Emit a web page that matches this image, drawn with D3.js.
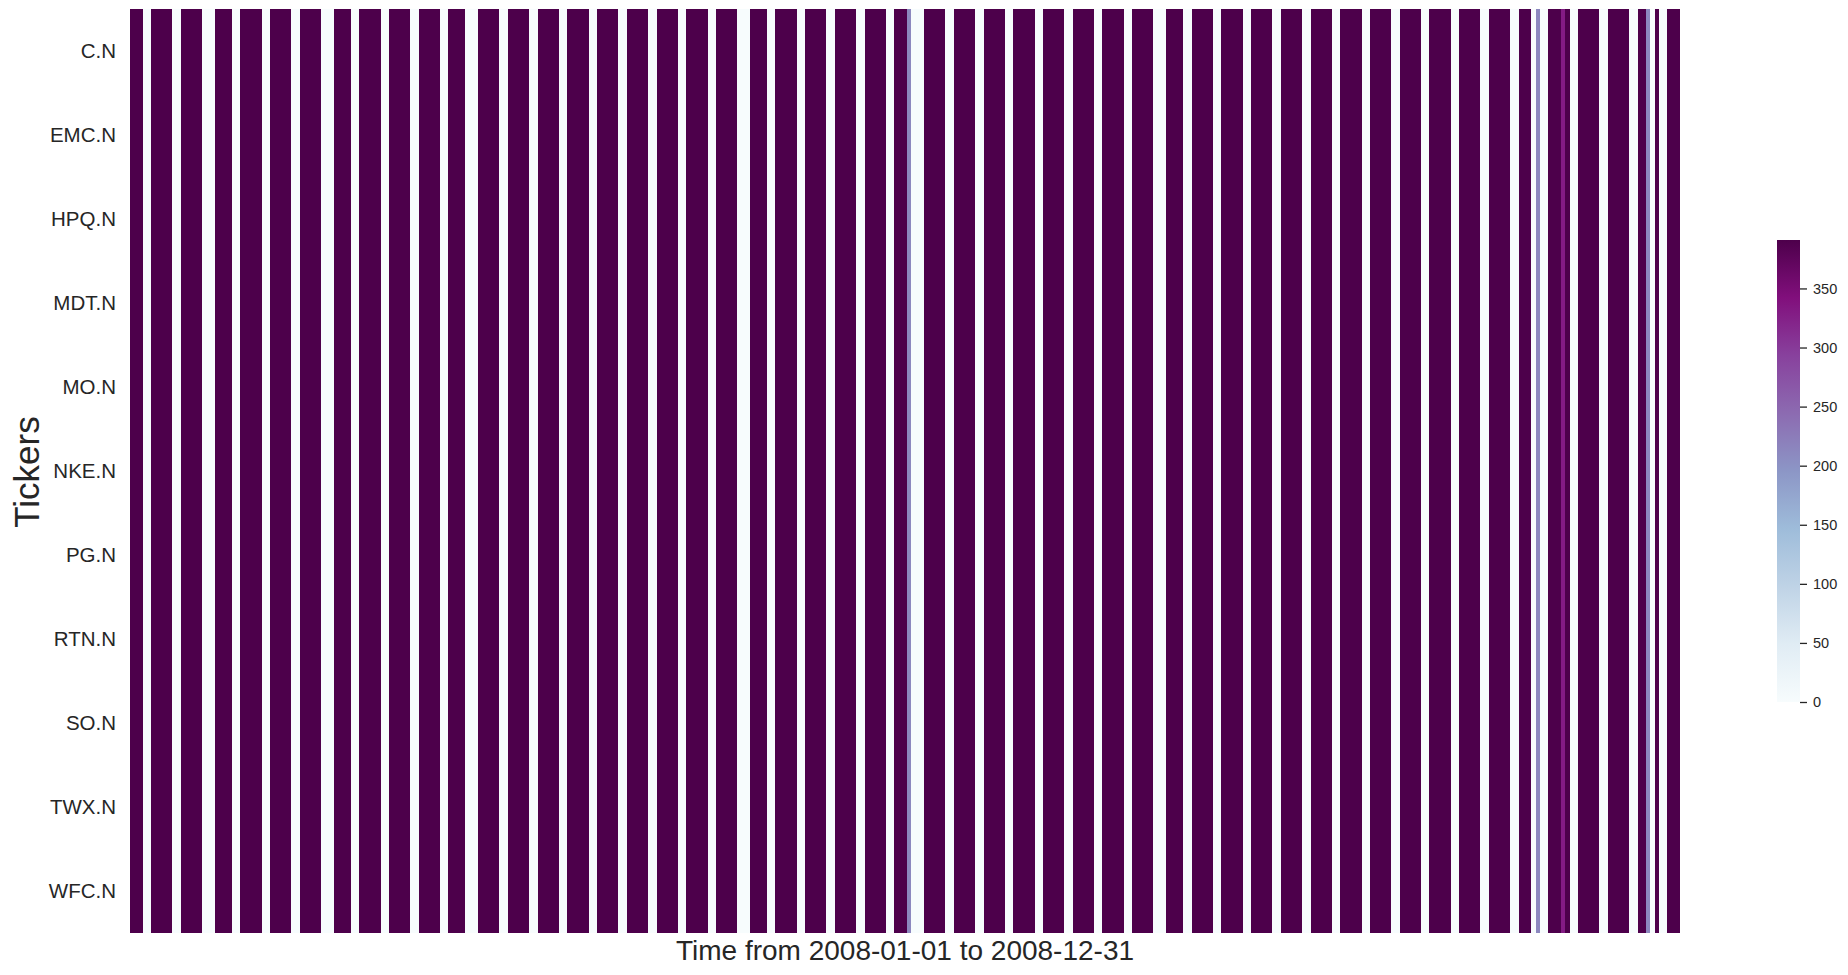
<!DOCTYPE html>
<html>
<head>
<meta charset="utf-8">
<script src="https://cdn.jsdelivr.net/npm/d3@7"></script>
<style>
  body { margin: 0; background: #fff; }
  text { font-family: "Liberation Sans", Arial, sans-serif; fill: #262626; }
</style>
</head>
<body>
<div id="chart"></div>
<script>
// Tickers on the y axis
var tickers = ["C.N", "EMC.N", "HPQ.N", "MDT.N", "MO.N", "NKE.N", "PG.N", "RTN.N", "SO.N", "TWX.N", "WFC.N"];

// Days shown (first column is 2008-01-02, last is 2008-12-31)
var firstDay = "2008-01-02";
var lastDay = "2008-12-31";

// Minutes of data per day
var fullDay = 391;
var closedDays = ["2008-01-21", "2008-02-18", "2008-03-21", "2008-05-26", "2008-07-04",
                  "2008-09-01", "2008-11-27", "2008-12-25"];
var halfDays = ["2008-07-03", "2008-11-28", "2008-12-24"];
var halfDayValue = 211;
var oddDays = ["2008-12-04"];
var oddDayValues = [330];

// Colorbar
var colorTicks = [0, 50, 100, 150, 200, 250, 300, 350];
var vmax = 391;
var buPu = ["#f7fcfd", "#e0ecf4", "#bfd3e6", "#9ebcda", "#8c96c6", "#8c6bb1", "#88419d", "#810f7c", "#4d004b"];

var width = 1848;
var height = 975;

var parse = d3.timeParse("%Y-%m-%d");
var fmt = d3.timeFormat("%Y-%m-%d");
var days = d3.timeDay.range(parse(firstDay), d3.timeDay.offset(parse(lastDay), 1));

function dayValue(d) {
    var key = fmt(d);
    var wd = d.getDay();
    if (wd == 0 || wd == 6) return 0;
    if (closedDays.indexOf(key) > -1) return 0;
    if (halfDays.indexOf(key) > -1) return halfDayValue;
    var i = oddDays.indexOf(key);
    if (i > -1) return oddDayValues[i];
    return fullDay;
}

var cells = [];
tickers.forEach(function(t) {
    days.forEach(function(d) {
        cells.push({ticker: t, day: fmt(d), value: dayValue(d)});
    });
});

var svg = d3.select("#chart").append("svg").attr("width", width).attr("height", height);

var x = d3.scaleBand().domain(days.map(fmt)).range([130, 1680]).padding(0);
var y = d3.scaleBand().domain(tickers).range([9, 933]).padding(0);

var color = d3.scaleLinear()
    .domain(buPu.map(function(c, i) { return i / (buPu.length - 1) * vmax; }))
    .range(buPu)
    .clamp(true);

// heatmap cells
svg.append("g")
    .attr("shape-rendering", "crispEdges")
    .selectAll("rect")
    .data(cells)
    .enter().append("rect")
    .attr("x", function(d) { return x(d.day); })
    .attr("y", function(d) { return y(d.ticker); })
    .attr("width", x.bandwidth())
    .attr("height", y.bandwidth())
    .style("fill", function(d) { return color(d.value); });

// y tick labels
svg.append("g")
    .selectAll("text")
    .data(tickers)
    .enter().append("text")
    .attr("x", 116)
    .attr("y", function(d) { return y(d) + y.bandwidth() / 2 + 6.5; })
    .attr("text-anchor", "end")
    .style("font-size", "20.5px")
    .text(function(d) { return d; });

// axis labels
svg.append("text")
    .attr("transform", "translate(39," + ((9 + 933) / 2 + 1) + ") rotate(-90)")
    .attr("text-anchor", "middle")
    .style("font-size", "35px")
    .text("Tickers");

svg.append("text")
    .attr("x", (130 + 1680) / 2)
    .attr("y", 960)
    .attr("text-anchor", "middle")
    .style("font-size", "28px")
    .text("Time from 2008-01-01 to 2008-12-31");

// colorbar
var cbY = d3.scaleLinear().domain([0, vmax]).range([702, 240]);
var defs = svg.append("defs");
var grad = defs.append("linearGradient")
    .attr("id", "cbgrad")
    .attr("x1", 0).attr("y1", 1).attr("x2", 0).attr("y2", 0);
buPu.forEach(function(c, i) {
    grad.append("stop").attr("offset", i / (buPu.length - 1)).attr("stop-color", c);
});

svg.append("rect")
    .attr("x", 1777)
    .attr("y", cbY(vmax))
    .attr("width", 23)
    .attr("height", cbY(0) - cbY(vmax))
    .style("fill", "url(#cbgrad)");

var cbAxis = d3.axisRight(cbY).tickValues(colorTicks).tickSize(7).tickPadding(6);
var cbG = svg.append("g")
    .attr("transform", "translate(1800,0)")
    .call(cbAxis);
cbG.select(".domain").remove();
cbG.selectAll("line").style("stroke", "#262626").style("stroke-width", 1.3);
cbG.selectAll("text")
    .style("font-size", "14.5px")
    .style("fill", "#262626")
    .style("font-family", "Liberation Sans, Arial, sans-serif");
</script>
</body>
</html>
